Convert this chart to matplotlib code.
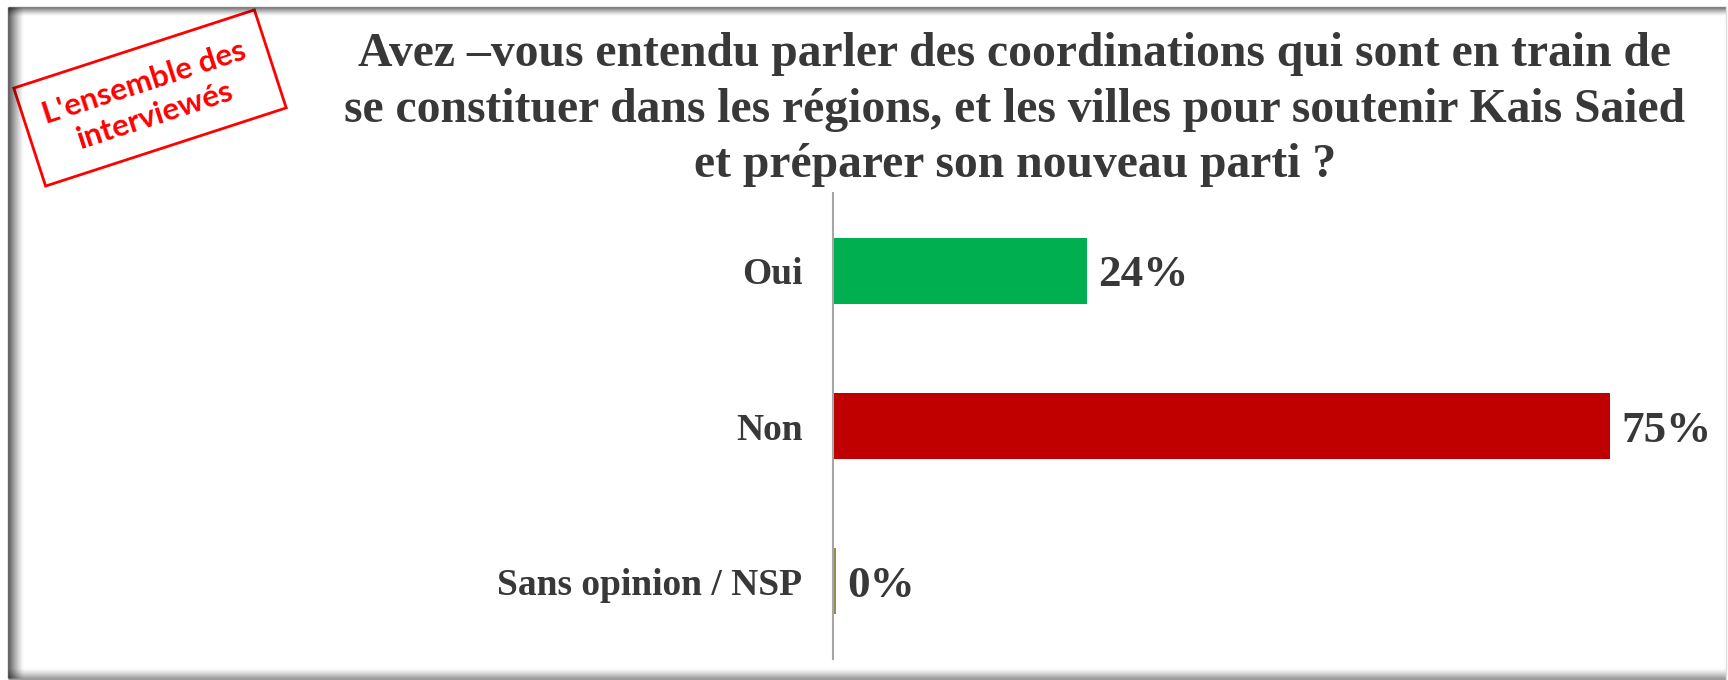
import numpy as np
import matplotlib
matplotlib.use("Agg")
import matplotlib.pyplot as plt
from matplotlib.patches import Rectangle

categories = ["Oui", "Non", "Sans opinion / NSP"]
values = [24.5, 75.0, 0.3]
value_labels = ["24%", "75%", "0%"]
bar_colors = ["#00B050", "#C00000", "#948A54"]
title_lines = [
    "Avez \u2013vous entendu parler des coordinations qui sont en train de",
    "se constituer dans les régions, et les villes pour soutenir Kais Saied",
    "et préparer son nouveau parti ?",
]
stamp_lines = ["L'ensemble des", "interviewés"]

W, H = 1728, 680
TXT = "#383838"
SERIF = "Liberation Serif"

fig = plt.figure(figsize=(W / 100, H / 100), dpi=100)

# background overlay in pixel coordinates (y downwards)
bg = fig.add_axes([0, 0, 1, 1], zorder=0)
bg.set_xlim(0, W)
bg.set_ylim(H, 0)
bg.axis("off")

# shadowed frame
for i in range(16):
    a = 0.55 * (1 - i / 16) ** 1.5
    bg.plot([8 + i, 8 + i], [7, 678], color="black", alpha=a, lw=1,
            solid_capstyle="butt")
for i in range(9):
    a = 0.45 * (1 - i / 9) ** 1.5
    bg.plot([8, 1726], [7 + i, 7 + i], color="black", alpha=a, lw=1,
            solid_capstyle="butt")
for i in range(12):
    a = 0.35 * (1 - i / 12) ** 1.5
    bg.plot([8, 1726], [679 - i, 679 - i], color="black", alpha=a, lw=1,
            solid_capstyle="butt")
bg.plot([1726, 1726], [7, 679], color="#dddddd", lw=1)

# red stamp
bg.add_patch(Rectangle((150 - 253 / 2, 98 - 103 / 2), 253, 103, angle=-18,
                       rotation_point="center", fill=False,
                       edgecolor="#FF0000", lw=2))
bg.text(150, 99, "\n".join(stamp_lines), rotation=18, rotation_mode="anchor",
        ha="center", va="center", color="#FF0000", fontsize=22.5,
        fontweight="bold", family="Lato", linespacing=1.3)

# title
for line, yb in zip(title_lines, [66, 122, 177]):
    bg.text(1015, yb, line, ha="center", va="baseline", fontsize=34.3,
            fontweight="bold", family=SERIF, color=TXT)

# bar chart
ax = fig.add_axes([833 / W, 1 - 659 / H, 867 / W, 466 / H], zorder=1)
ax.patch.set_alpha(0)
y = np.arange(len(categories))
ax.barh(y, values, height=0.425, color=bar_colors)
ax.set_xlim(0, 83.7)
ax.set_ylim(len(categories) - 0.5, -0.5)
for yi, v, lab in zip(y, values, value_labels):
    ax.annotate(lab, (v, yi), xytext=(8, 0), textcoords="offset points",
                ha="left", va="center_baseline", fontsize=32.5,
                fontweight="bold", family=SERIF, color=TXT)
ax.set_yticks(y)
ax.set_yticklabels(categories, fontsize=27, fontweight="bold",
                   family=SERIF, color=TXT)
ax.tick_params(axis="y", length=0, pad=22)
ax.set_xticks([])
for s in ["top", "right", "bottom"]:
    ax.spines[s].set_visible(False)
ax.spines["left"].set_color("#a6a6a6")
ax.spines["left"].set_linewidth(1.5)

fig.savefig("out.png", dpi=100)
